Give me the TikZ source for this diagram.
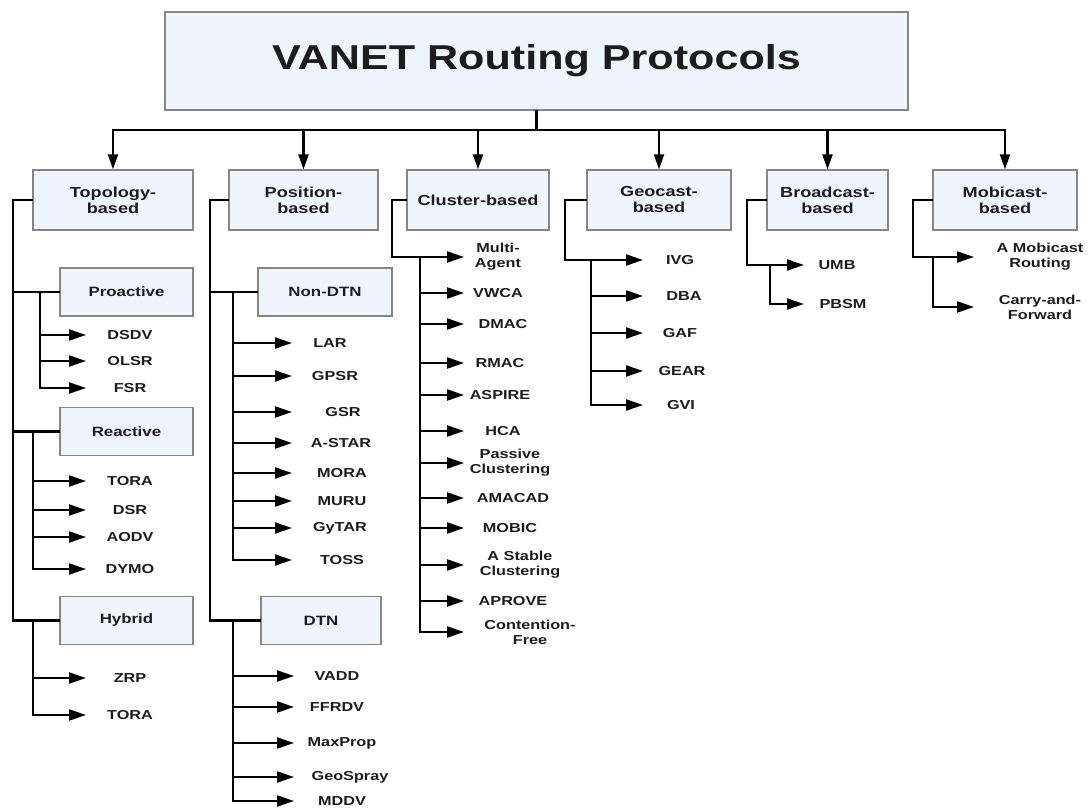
\documentclass[tikz,border=0pt]{standalone}
\usepackage{fontspec}
\usetikzlibrary{arrows.meta}
\newfontfamily\vfont{Liberation Sans}[FakeStretch=1.25]
\definecolor{boxfill}{HTML}{EEF5FD}
\definecolor{boxline}{HTML}{858585}
\definecolor{ink}{HTML}{1C1C1C}
\newcommand{\leafgroup}[4]{%
  \foreach \t/\y/\x [count=\i] in {#4} {
    \coordinate (#1-a\i) at (#2,\y);
    \coordinate (#1-b\i) at (#3,\y);
    \node[leaf] (#1-l\i) at (\x,\y) {\t};
    \draw[arr] (#1-a\i) -- (#1-b\i);
  }}

\begin{document}
\begin{tikzpicture}[x = 1pt, y = -1pt,
    rootbox/.style = {draw = boxline, line width = 1.5pt, fill = boxfill,
        minimum width = 743pt, minimum height = 98pt, text = ink,
        font = \vfont\bfseries\fontsize{34.5}{38}\selectfont},
    catbox/.style = {draw = boxline, line width = 1.3pt, fill = boxfill,
        minimum height = 60pt, align = center, text = ink,
        font = \vfont\bfseries\fontsize{14.5}{16}\selectfont},
    subbox/.style = {draw = boxline, line width = 1.3pt, fill = boxfill,
        minimum width = 133pt, minimum height = 48pt, text = ink,
        font = \vfont\bfseries\fontsize{13.5}{15}\selectfont},
    leaf/.style = {align = center, inner sep = 0pt, text = ink,
        font = \vfont\bfseries\fontsize{13}{15}\selectfont},
    wire/.style = {line width = 2.2pt, black, line cap = rect},
    arr/.style = {wire, -{Triangle[length = 17pt, width = 11pt]}},
    downarr/.style = {wire, -{Triangle[length = 15pt, width = 10pt]}}]
\useasboundingbox (0,0) rectangle (1088,810);

\node[rootbox] (root) at (536.5,61) {VANET Routing Protocols};

\node[catbox, minimum width = 160pt] (topo) at (113,200) {Topology-\\based};
\node[catbox, minimum width = 149pt] (posn) at (303.5,200) {Position-\\based};
\node[catbox, minimum width = 142pt] (clus) at (478,200) {Cluster-based};
\node[catbox, minimum width = 144pt] (geo) at (659,200) {Geocast-\\based};
\node[catbox, minimum width = 121pt] (bcast) at (827.5,200) {Broadcast-\\based};
\node[catbox, minimum width = 144pt] (mcast) at (1005,200) {Mobicast-\\based};

\coordinate (bar) at (0,130);
\draw[wire] (root.south) -- (root.south |- bar);
\draw[wire] (topo.north |- bar) -- (mcast.north |- bar);
\foreach \n in {topo, posn, clus, geo, bcast, mcast}
  \draw[downarr] (\n.north |- bar) -- (\n.north);

\node[subbox] (pro) at (126.5,292) {Proactive};
\node[subbox] (rea) at (126.5,431.5) {Reactive};
\node[subbox] (hyb) at (126.5,620.5) {Hybrid};
\node[subbox, minimum width = 134pt] (ndtn) at (325,292) {Non-DTN};
\node[subbox, minimum width = 120pt] (dtn) at (321,620.5) {DTN};

\coordinate (tk1) at (13,0);
\draw[wire] (topo.west) -| (tk1 |- hyb.west) -- (hyb.west);
\draw[wire] (tk1 |- pro.west) -- (pro.west);
\draw[wire] (tk1 |- rea.west) -- (rea.west);

\coordinate (tk2) at (210,0);
\draw[wire] (posn.west) -| (tk2 |- dtn.west) -- (dtn.west);
\draw[wire] (tk2 |- ndtn.west) -- (ndtn.west);

\leafgroup{pro}{40}{86}{DSDV/335/130, OLSR/361/130, FSR/388/130}
\leafgroup{rea}{33}{86}{TORA/481/130, DSR/510/130, AODV/537/130, DYMO/569/130}
\leafgroup{hyb}{33}{86}{ZRP/678/130, TORA/715/130}
\draw[wire] (pro.west -| pro-a1) -- (pro-a3);
\draw[wire] (rea.west -| rea-a1) -- (rea-a4);
\draw[wire] (hyb.west -| hyb-a1) -- (hyb-a2);

\leafgroup{ndtn}{233}{292}{LAR/343/330, GPSR/376/335, GSR/412/343, A-STAR/443/341,
  MORA/473/342, MURU/501/342, GyTAR/528/340, TOSS/560/342}
\leafgroup{dtn}{233}{294}{VADD/676/337, FFRDV/707/337, MaxProp/743/342,
  GeoSpray/777/350, MDDV/801/342}
\draw[wire] (ndtn.west -| ndtn-a1) -- (ndtn-a8);
\draw[wire] (dtn.west -| dtn-a1) -- (dtn-a5);

\leafgroup{clus}{420}{464}{{Multi-\\Agent}/257/498, VWCA/293/498, DMAC/324/503,
  RMAC/363/500, ASPIRE/395/500, HCA/431/503, {Passive\\Clustering}/463/510,
  AMACAD/498/513, MOBIC/528/510, {A Stable\\Clustering}/565/520,
  APROVE/601/513, {Contention-\\Free}/632/530}
\draw[wire] (clus.west) -| ([xshift=-28pt]clus-a1) -- (clus-a1);
\draw[wire] (clus-a1) -- (clus-a12);

\leafgroup{geo}{591}{643}{IVG/260/680, DBA/296/684, GAF/333/680, GEAR/371/682, GVI/405/681}
\draw[wire] (geo.west) -| ([xshift=-26pt]geo-a1) -- (geo-a1);
\draw[wire] (geo-a1) -- (geo-a5);

\leafgroup{bcast}{770}{804}{UMB/265/837, PBSM/304/843}
\draw[wire] (bcast.west) -| ([xshift=-23pt]bcast-a1) -- (bcast-a1);
\draw[wire] (bcast-a1) -- (bcast-a2);

\leafgroup{mcast}{933}{974}{{A Mobicast\\Routing}/257/1040, {Carry-and-\\Forward}/307/1040}
\draw[wire] (mcast.west) -| ([xshift=-20pt]mcast-a1) -- (mcast-a1);
\draw[wire] (mcast-a1) -- (mcast-a2);
\end{tikzpicture}
\end{document}
